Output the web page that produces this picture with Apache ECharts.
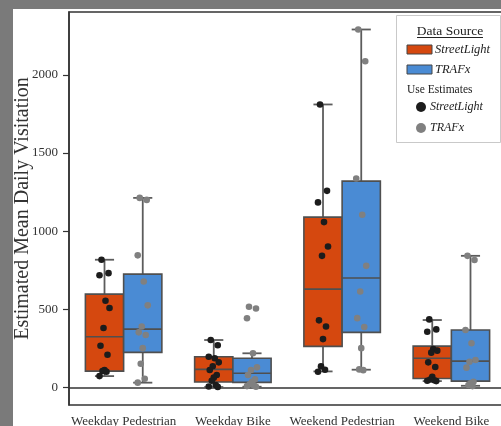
<!DOCTYPE html>
<html>
<head>
<meta charset="utf-8">
<script src="https://cdn.jsdelivr.net/npm/echarts@6/dist/echarts.min.js"></script>
<style>
  html, body { margin: 0; padding: 0; background: #7a7a7a; width: 501px; height: 426px; overflow: hidden; }
  #paper { position: absolute; left: 13px; top: 9px; right: 0; bottom: 0; background: #ffffff; }
  #chart { position: absolute; left: 0; top: 0; width: 501px; height: 426px; }
</style>
</head>
<body>
<div id="paper"></div>
<div id="chart"></div>
<script>
// ---- data ----
const categories = ['Weekday Pedestrian', 'Weekday Bike', 'Weekend Pedestrian', 'Weekend Bike'];
const yTicks = [0, 500, 1000, 1500, 2000];

// [lower whisker, Q1, median, Q3, upper whisker]
const streetLightBox = [
  [72, 104, 324, 597, 817],
  [2, 34, 115, 196, 303],
  [102, 262, 629, 1090, 1811],
  [40, 57, 186, 264, 431]
];
const trafxBox = [
  [30, 224, 373, 725, 1213],
  [4, 32, 90, 186, 218],
  [113, 352, 700, 1320, 2291],
  [10, 40, 168, 367, 842]
];

// individual estimates per category
const streetLightPoints = [
  [817, 731, 718, 554, 508, 380, 266, 209, 110, 105, 100, 72],
  [303, 270, 196, 186, 160, 135, 111, 79, 62, 42, 15, 5, 3],
  [1811, 1258, 1184, 1058, 902, 842, 429, 390, 309, 134, 113, 100],
  [435, 371, 356, 245, 235, 222, 160, 130, 68, 50, 45, 42, 40]
];
const trafxPoints = [
  [1213, 1200, 845, 678, 525, 390, 352, 335, 251, 151, 55, 30],
  [516, 505, 442, 218, 128, 111, 79, 52, 36, 21, 12, 8, 4],
  [2291, 2088, 1337, 1105, 778, 614, 443, 386, 251, 115, 110],
  [842, 815, 367, 282, 175, 164, 126, 36, 26, 15, 8]
];

// ---- styling ----
const ORANGE = '#d5480f';
const BLUE = '#4a8bd4';
const LINE = '#5c5c5c';
const SERIF = '"Liberation Serif", "Times New Roman", serif';
const JITTER_PX = [-3, 4, -5, 1, 5, -1, -4, 3, 0, -2, 2, -5, 4];

function boxData(boxes) {
  return boxes.map((b, i) => [i].concat(b));
}
function pointData(groups) {
  const out = [];
  groups.forEach((vals, i) => vals.forEach((v, k) => out.push([i, v, k])));
  return out;
}

function boxRender(side, fill) {
  return function (params, api) {
    const i = api.value(0);
    const band = api.size([1, 0])[0];
    const w = band * 0.35;
    const cx = api.coord([i, 0])[0] + side * w / 2;
    const y = v => api.coord([i, v])[1];
    const lo = y(api.value(1)), q1 = y(api.value(2)), med = y(api.value(3)),
          q3 = y(api.value(4)), hi = y(api.value(5));
    const cap = w * 0.5;
    const ls = { stroke: LINE, lineWidth: 1.8 };
    return {
      type: 'group',
      children: [
        { type: 'line', shape: { x1: cx, y1: hi, x2: cx, y2: q3 }, style: ls },
        { type: 'line', shape: { x1: cx, y1: q1, x2: cx, y2: lo }, style: ls },
        { type: 'line', shape: { x1: cx - cap / 2, y1: hi, x2: cx + cap / 2, y2: hi }, style: ls },
        { type: 'line', shape: { x1: cx - cap / 2, y1: lo, x2: cx + cap / 2, y2: lo }, style: ls },
        { type: 'rect', shape: { x: cx - w / 2, y: q3, width: w, height: q1 - q3 },
          style: { fill: fill, stroke: '#4f4f4f', lineWidth: 1.6 } },
        { type: 'line', shape: { x1: cx - w / 2, y1: med, x2: cx + w / 2, y2: med },
          style: { stroke: '#4f4f4f', lineWidth: 1.6 } }
      ]
    };
  };
}

function pointRender(side, color) {
  return function (params, api) {
    const i = api.value(0);
    const band = api.size([1, 0])[0];
    const w = band * 0.35;
    const k = api.value(2);
    const base = api.coord([i, api.value(1)]);
    return {
      type: 'circle',
      shape: { cx: base[0] + side * w / 2 + JITTER_PX[k % JITTER_PX.length], cy: base[1], r: 3.3 },
      style: { fill: color }
    };
  };
}

const chart = echarts.init(document.getElementById('chart'), null, { renderer: 'canvas' });

const legendX = 396, legendY = 15;
const option = {
  backgroundColor: 'transparent',
  animation: false,
  grid: {
    left: 69, top: 12, width: 437, height: 393,
    containLabel: false, outerBoundsMode: 'none',
    show: true, borderColor: '#333', borderWidth: 1.5, backgroundColor: 'transparent'
  },
  xAxis: {
    type: 'category',
    data: categories,
    boundaryGap: true,
    axisLine: { lineStyle: { color: '#333', width: 1.5 } },
    axisTick: { alignWithLabel: true, length: 7, lineStyle: { color: '#333', width: 1.2 } },
    axisLabel: { interval: 0, hideOverlap: false, margin: 10, fontFamily: SERIF, fontSize: 13, color: '#333' },
    splitLine: { show: false }
  },
  yAxis: {
    type: 'value',
    min: -113, max: 2403,
    name: 'Estimated Mean Daily Visitation',
    nameLocation: 'middle',
    nameRotate: 90,
    nameGap: 36,
    nameMoveOverlap: false,
    nameTextStyle: { fontFamily: SERIF, fontSize: 20, color: '#333' },
    axisLine: { show: true, lineStyle: { color: '#333', width: 1.5 } },
    axisTick: { show: true, length: 6, customValues: yTicks, lineStyle: { color: '#333', width: 1.2 } },
    axisLabel: { margin: 11, customValues: yTicks, formatter: v => String(v),
                 fontFamily: SERIF, fontSize: 13, color: '#333' },
    splitLine: { show: false }
  },
  series: [
    { type: 'custom', name: 'StreetLight', renderItem: boxRender(-1, ORANGE), data: boxData(streetLightBox),
      encode: { x: 0, y: [1, 2, 3, 4, 5] }, z: 2, clip: false },
    { type: 'custom', name: 'TRAFx', renderItem: boxRender(1, BLUE), data: boxData(trafxBox),
      encode: { x: 0, y: [1, 2, 3, 4, 5] }, z: 2, clip: false },
    { type: 'custom', name: 'StreetLight estimates', renderItem: pointRender(-1, '#1c1c1c'), data: pointData(streetLightPoints),
      encode: { x: 0, y: 1 }, z: 3 },
    { type: 'custom', name: 'TRAFx estimates', renderItem: pointRender(1, '#808080'), data: pointData(trafxPoints),
      encode: { x: 0, y: 1 }, z: 3 }
  ],
  graphic: [
    { type: 'rect', z: 10, shape: { x: legendX + 0.5, y: legendY + 0.5, width: 104, height: 127 },
      style: { fill: '#fff', stroke: '#c9c9c9', lineWidth: 1 } },
    { type: 'text', z: 11, x: 450, y: 31,
      style: { text: 'Data Source', font: '13.5px ' + SERIF, fill: '#222', align: 'center', verticalAlign: 'middle' } },
    { type: 'line', z: 11, shape: { x1: 417, y1: 37.5, x2: 483, y2: 37.5 }, style: { stroke: '#222', lineWidth: 1 } },
    { type: 'rect', z: 11, shape: { x: 407, y: 45, width: 25, height: 9 }, style: { fill: ORANGE, stroke: '#444', lineWidth: 1 } },
    { type: 'text', z: 11, x: 435, y: 50,
      style: { text: 'StreetLight', font: 'italic 12.5px ' + SERIF, fill: '#222', align: 'left', verticalAlign: 'middle' } },
    { type: 'rect', z: 11, shape: { x: 407, y: 65, width: 25, height: 9 }, style: { fill: BLUE, stroke: '#444', lineWidth: 1 } },
    { type: 'text', z: 11, x: 435, y: 70,
      style: { text: 'TRAFx', font: 'italic 12.5px ' + SERIF, fill: '#222', align: 'left', verticalAlign: 'middle' } },
    { type: 'text', z: 11, x: 407, y: 90,
      style: { text: 'Use Estimates', font: '11.5px ' + SERIF, fill: '#222', align: 'left', verticalAlign: 'middle' } },
    { type: 'circle', z: 11, shape: { cx: 421, cy: 107, r: 5 }, style: { fill: '#1c1c1c' } },
    { type: 'text', z: 11, x: 430, y: 107,
      style: { text: 'StreetLight', font: 'italic 12px ' + SERIF, fill: '#222', align: 'left', verticalAlign: 'middle' } },
    { type: 'circle', z: 11, shape: { cx: 421, cy: 128, r: 5 }, style: { fill: '#808080' } },
    { type: 'text', z: 11, x: 430, y: 128,
      style: { text: 'TRAFx', font: 'italic 12px ' + SERIF, fill: '#222', align: 'left', verticalAlign: 'middle' } }
  ]
};
chart.setOption(option);
</script>
</body>
</html>
